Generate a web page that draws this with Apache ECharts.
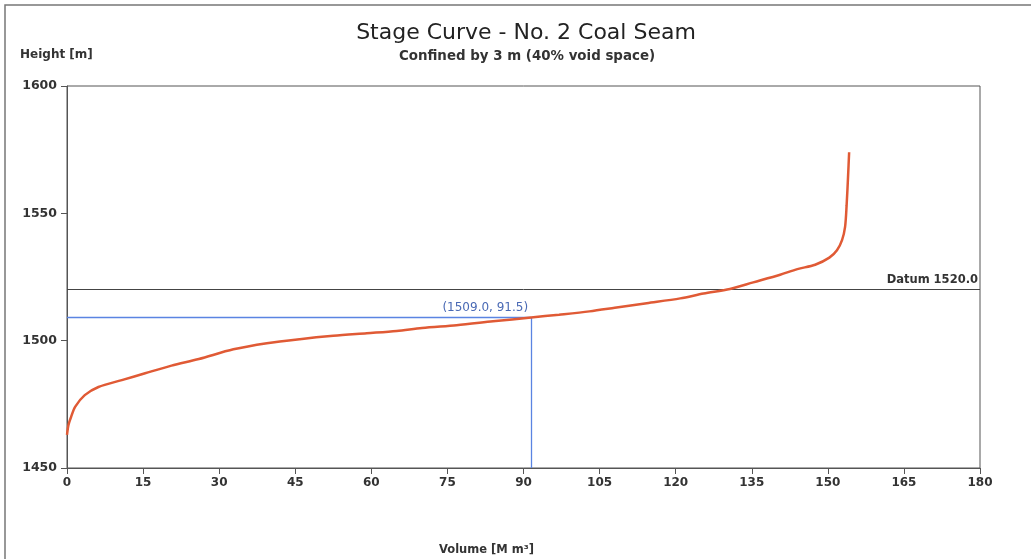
<!DOCTYPE html>
<html>
<head>
<meta charset="utf-8">
<script src="https://cdn.jsdelivr.net/npm/echarts@6/dist/echarts.min.js"></script>
<style>
html,body{margin:0;padding:0;background:#fff;}
#chart{width:1031px;height:559px;}
</style>
</head>
<body>
<div id="chart"></div>
<script>
// ---- data ----
const volume = [0, 0.3, 0.8, 1.6, 3.5, 6.2, 10.8, 15.4, 20.6, 26.0, 32.8, 39.4, 45.9, 52.5, 59.1, 65.0, 70.0, 76.8, 84.0, 91.5, 97.0, 103.0, 108.0, 114.3, 120.9, 125.5, 130.7, 135.3, 140.6, 144.0, 147.5, 150.3, 151.8, 152.8, 153.4, 153.7, 154.0, 154.2];
const height = [1463.0, 1467.0, 1470.0, 1474.0, 1478.6, 1481.8, 1484.5, 1487.2, 1490.2, 1492.8, 1496.6, 1499.0, 1500.6, 1501.9, 1502.9, 1503.8, 1505.0, 1506.1, 1507.6, 1509.1, 1510.2, 1511.5, 1512.9, 1514.7, 1516.6, 1518.5, 1520.3, 1522.9, 1525.9, 1528.1, 1529.8, 1532.6, 1535.5, 1539.5, 1544.7, 1553.0, 1565.0, 1574.0];
const datumLevel = 1520.0;
const pointVolume = 91.5;
const pointHeight = 1509.0;
const xTickStep = 15, xMin = 0, xMax = 180;
const yTickStep = 50, yMin = 1450, yMax = 1600;
const titleText = 'Stage Curve - No. 2 Coal Seam';
const subtitleText = 'Confined by 3 m (40% void space)';
const yName = 'Height [m]';
const xName = 'Volume [M m\u00B3]';

const curve = volume.map((v, i) => [v, height[i]]);
const FONT = '"DejaVu Sans", sans-serif';

const chart = echarts.init(document.getElementById('chart'), null, {renderer: 'canvas'});
chart.setOption({
  backgroundColor: '#ffffff',
  animation: false,
  grid: {left: 67, right: 51, top: 86, bottom: 91, show: true, borderColor: '#555', borderWidth: 1, backgroundColor: 'transparent'},
  title: [
    {text: titleText, left: 521, top: 17, textAlign: 'center',
     textStyle: {fontFamily: FONT, fontSize: 22, fontWeight: 'normal', color: '#222'}},
    {text: subtitleText, left: 522, top: 45, textAlign: 'center',
     textStyle: {fontFamily: FONT, fontSize: 13.4, fontWeight: 'bold', color: '#333'}}
  ],
  xAxis: {
    type: 'value', min: xMin, max: xMax, interval: xTickStep,
    axisLine: {show: true, lineStyle: {color: '#555', width: 1}},
    axisTick: {show: true, inside: false, length: 6, lineStyle: {color: '#555'}},
    axisLabel: {margin: 9, fontFamily: FONT, fontSize: 12, fontWeight: 'bold', color: '#333',
      formatter: v => String(v)},
    splitLine: {show: false}
  },
  yAxis: {
    type: 'value', min: yMin, max: yMax, interval: yTickStep,
    axisLine: {show: true, lineStyle: {color: '#555', width: 1}},
    axisTick: {show: true, inside: false, length: 6, lineStyle: {color: '#555'}},
    axisLabel: {margin: 10, fontFamily: FONT, fontSize: 12.5, fontWeight: 'bold', color: '#333',
      formatter: v => String(v)},
    splitLine: {show: false}
  },
  graphic: [
    {type: 'rect', silent: true, shape: {x: 5, y: 5, width: 1100, height: 700},
     style: {fill: 'none', stroke: '#777', lineWidth: 1.5}},
    {type: 'text', left: 20, top: 49,
     style: {text: yName, font: 'bold 12px ' + FONT, fill: '#333'}},
    {type: 'text', left: 439, top: 544,
     style: {text: xName, font: 'bold 11.5px ' + FONT, fill: '#333'}}
  ],
  series: [
    {
      type: 'line', data: curve, showSymbol: false, smooth: 0.3, z: 5,
      lineStyle: {color: '#e05a35', width: 2.5}
    },
    {
      type: 'line', data: [], z: 3,
      markLine: {
        silent: true, symbol: 'none', animation: false,
        lineStyle: {color: '#444444', width: 1, type: 'solid'},
        label: {show: true, position: 'insideEndTop', formatter: 'Datum ' + datumLevel.toFixed(1),
          fontFamily: FONT, fontSize: 11.5, fontWeight: 'bold', color: '#333', distance: [2, 4]},
        data: [[{coord: [xMin, datumLevel]}, {coord: [xMax, datumLevel]}]]
      }
    },
    {
      type: 'line', data: [], z: 3,
      markLine: {
        silent: true, symbol: 'none', animation: false,
        lineStyle: {color: '#5a84e2', width: 1.3, type: 'solid', opacity: 1},
        label: {show: false},
        data: [
          [{coord: [xMin, pointHeight],
            label: {show: true, position: 'insideEndTop',
              formatter: '(' + pointHeight.toFixed(1) + ', ' + pointVolume.toFixed(1) + ')',
              fontFamily: FONT, fontSize: 12, fontWeight: 'normal', color: '#4a6ab5', distance: [3, 4]}},
           {coord: [pointVolume, pointHeight]}],
          [{coord: [pointVolume, yMin]}, {coord: [pointVolume, pointHeight]}]
        ]
      }
    }
  ]
});
</script>
</body>
</html>
